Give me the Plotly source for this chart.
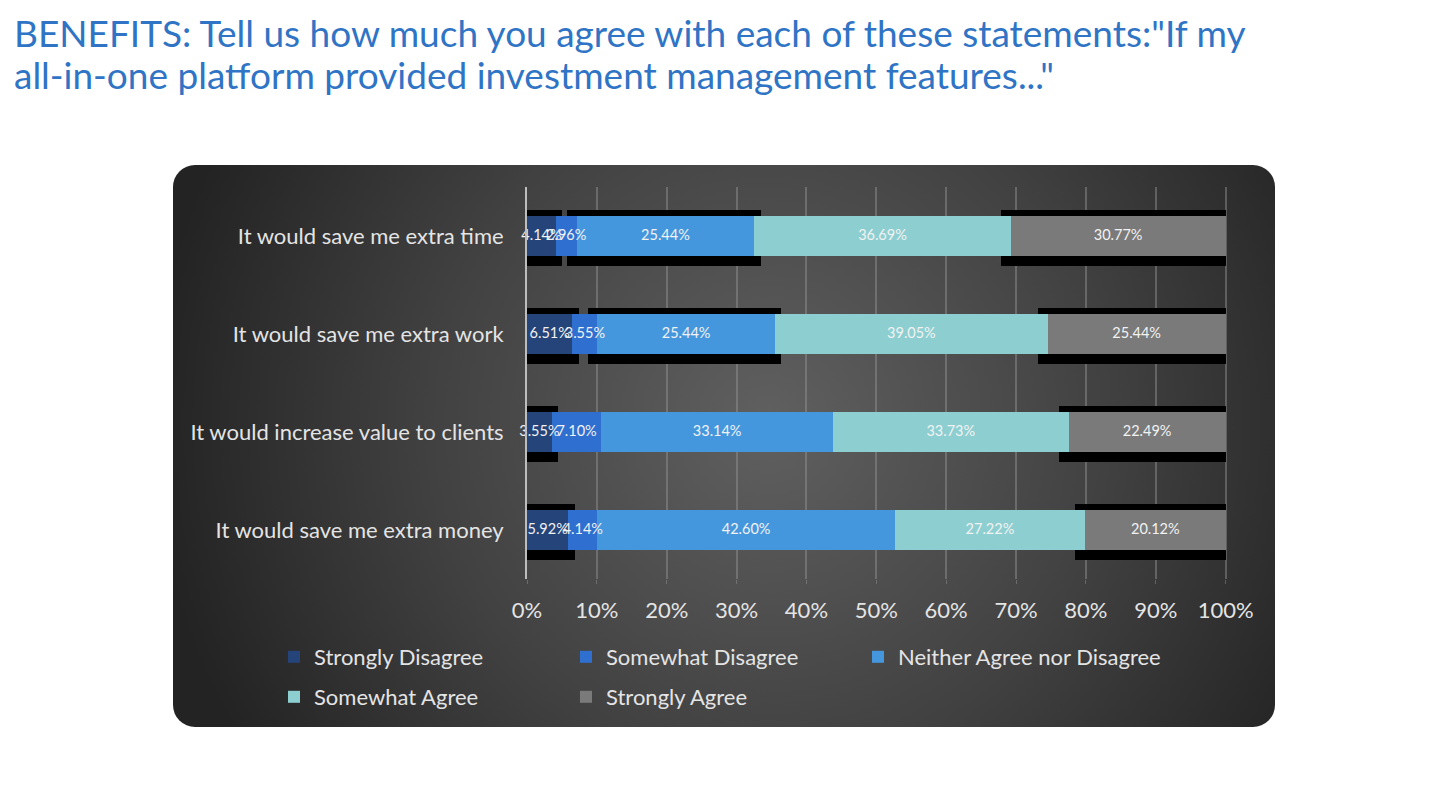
import base64
import numpy as np
import plotly.graph_objects as go

# ---- data (percent of respondents) ----
statements = [
    "It would save me extra time",
    "It would save me extra work",
    "It would increase value to clients",
    "It would save me extra money",
]
responses = [
    "Strongly Disagree",
    "Somewhat Disagree",
    "Neither Agree nor Disagree",
    "Somewhat Agree",
    "Strongly Agree",
]
strongly_disagree = [4.14, 6.51, 3.55, 5.92]
somewhat_disagree = [2.96, 3.55, 7.10, 4.14]
neither = [25.44, 25.44, 33.14, 42.60]
somewhat_agree = [36.69, 39.05, 33.73, 27.22]
strongly_agree = [30.77, 25.44, 22.49, 20.12]
x_ticks = [0, 10, 20, 30, 40, 50, 60, 70, 80, 90, 100]

title_lines = [
    "BENEFITS: Tell us how much you agree with each of these statements:\"If my",
    "all-in-one platform provided investment management features...\"",
]

# ---- style ----
colors = ["#24447a", "#2f6fd0", "#4597dd", "#8dcfd1", "#7a7a7a"]
font_family = "Lato"
label_color = "#e4e4e4"

# which segments carry the black "shadow" box in the original (per statement)
shadowed = [
    [0, 2, 4],
    [0, 2, 4],
    [0, 4],
    [0, 4],
]

# page body has an 8px margin, so work in page pixels minus 8
OFF = 8
W, H = 1440 - OFF, 810 - OFF
L, T = 527 - OFF, 187 - OFF
pw, ph = 700, 392
R, B = W - L - pw, H - T - ph


def px_x(p):
    return (p - OFF - L) / pw


def px_y(p):
    return (T + ph - (p - OFF)) / ph


def panel_svg(w, h):
    svg = f"""<svg xmlns='http://www.w3.org/2000/svg' width='{w}' height='{h}' viewBox='0 0 {w} {h}'>
<defs><radialGradient id='g' gradientUnits='userSpaceOnUse' cx='{w*0.54}' cy='{h*0.46}' r='{w*0.56}'>
<stop offset='0' stop-color='#606060'/><stop offset='0.55' stop-color='#414141'/>
<stop offset='1' stop-color='#232323'/></radialGradient></defs>
<rect x='0' y='0' width='{w}' height='{h}' rx='22' ry='22' fill='url(#g)'/></svg>"""
    return "data:image/svg+xml;base64," + base64.b64encode(svg.encode()).decode()


series = [strongly_disagree, somewhat_disagree, neither, somewhat_agree, strongly_agree]
vals = np.array(series)                     # shape (5, 4)
starts = np.vstack([np.zeros(len(statements)), np.cumsum(vals, axis=0)[:-1]])

fig = go.Figure()

# shadow boxes (base subplot, drawn underneath, sitting ~2px lower)
for k in range(len(responses)):
    ys, xs, bases = [], [], []
    for i, st in enumerate(statements):
        if k in shadowed[i]:
            s0 = max(0.0, starts[k, i] - 1.4)
            s1 = min(100.1, starts[k, i] + vals[k, i] + 0.9)
            ys.append(st)
            bases.append(s0)
            xs.append(s1 - s0)
    fig.add_trace(go.Bar(
        y=ys, x=xs, base=bases, orientation="h", width=0.58,
        marker=dict(color="#000000", line=dict(width=0)),
        showlegend=False, hoverinfo="skip", yaxis="y", xaxis="x",
    ))

# main stacked segments (overlay subplot, on top)
for k, name in enumerate(responses):
    fig.add_trace(go.Bar(
        y=statements, x=series[k], base=starts[k], orientation="h", width=0.41,
        name=name, marker=dict(color=colors[k], line=dict(width=0)),
        legend="legend" if k < 3 else "legend2",
        legendwidth=290 if k == 2 else None,
        yaxis="y2", xaxis="x",
    ))

# data labels in the middle of each segment
for k in range(len(responses)):
    fig.add_trace(go.Scatter(
        y=statements, x=starts[k] + vals[k] / 2, mode="text",
        text=[f"{v:.2f}%" for v in series[k]],
        textfont=dict(family=font_family, size=14.5, color="#f2f2f2"),
        cliponaxis=False,
        showlegend=False, hoverinfo="skip", yaxis="y2", xaxis="x",
    ))

fig.add_layout_image(
    source=panel_svg(1102, 562), xref="paper", yref="paper",
    x=px_x(173), y=px_y(165), sizex=1102 / pw, sizey=562 / ph,
    xanchor="left", yanchor="top", sizing="stretch", layer="below",
)

for line, yc in zip(title_lines, [32, 75]):
    fig.add_annotation(
        text=line, xref="paper", yref="paper", x=px_x(12), y=px_y(yc),
        xanchor="left", yanchor="middle", align="left", showarrow=False,
        font=dict(family=font_family, size=37, color="#2f74c5"),
    )

legend_style = dict(
    orientation="h", xanchor="left", yanchor="middle", entrywidth=247,
    bgcolor="rgba(0,0,0,0)", font=dict(family=font_family, size=22, color=label_color),
    traceorder="normal",
)

fig.update_layout(
    width=W, height=H,
    margin=dict(l=L, r=R, t=T, b=B),
    paper_bgcolor="white", plot_bgcolor="rgba(0,0,0,0)",
    barmode="overlay", bargap=0,
    font=dict(family=font_family, color=label_color),
    xaxis=dict(
        range=[0, 100.2], tickvals=x_ticks, ticktext=[f"{t}%" for t in x_ticks],
        showgrid=True, gridcolor="rgba(150,150,150,0.45)", gridwidth=1.5,
        zeroline=False, ticks="outside", ticklen=4, tickcolor="rgba(150,150,150,0.45)",
        ticklabelstandoff=8, tickfont=dict(family=font_family, size=22, color=label_color),
        fixedrange=True,
    ),
    yaxis=dict(
        type="category", categoryorder="array", categoryarray=statements,
        range=[3.48, -0.52], showgrid=False, zeroline=False,
        showticklabels=False, showline=False, ticks="",
        fixedrange=True,
    ),
    yaxis2=dict(
        type="category", categoryorder="array", categoryarray=statements,
        range=[3.5, -0.5], overlaying="y", side="left", showgrid=False, zeroline=False,
        showline=True, linecolor="#bdbdbd", linewidth=2, ticks="",
        ticklabelstandoff=17, tickfont=dict(family=font_family, size=22, color=label_color),
        fixedrange=True,
    ),
    legend=dict(x=px_x(274), y=px_y(657), **legend_style),
    legend2=dict(x=px_x(274), y=px_y(697), **legend_style),
)

fig.write_html("out.html")
